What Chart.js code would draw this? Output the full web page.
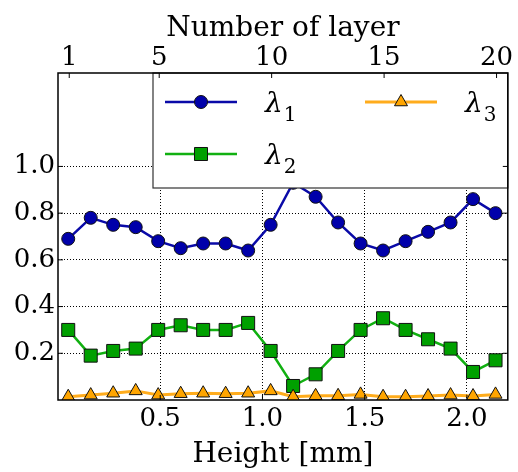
<!DOCTYPE html>
<html>
<head>
<meta charset="utf-8">
<title>Layer eigenvalues</title>
<script src="https://cdn.jsdelivr.net/npm/chart.js@4.4.1/dist/chart.umd.min.js"></script>
<style>
  html, body { margin: 0; padding: 0; background: #fff; }
  #wrap { width: 518px; height: 472px; }
</style>
</head>
<body>
<div id="wrap"><canvas id="chart" width="518" height="472"></canvas></div>
<script>
// layer centre heights in mm (one point per layer)
const heights = [0.05, 0.16, 0.27, 0.38, 0.49, 0.60, 0.71, 0.82, 0.93, 1.04,
                 1.15, 1.26, 1.37, 1.48, 1.59, 1.70, 1.81, 1.92, 2.03, 2.14];
const lambda1 = [0.69, 0.78, 0.75, 0.74, 0.68, 0.65, 0.67, 0.67, 0.64, 0.75,
                 0.93, 0.87, 0.76, 0.67, 0.64, 0.68, 0.72, 0.76, 0.86, 0.80];
const lambda2 = [0.30, 0.19, 0.21, 0.22, 0.30, 0.32, 0.30, 0.30, 0.33, 0.21,
                 0.06, 0.11, 0.21, 0.30, 0.35, 0.30, 0.26, 0.22, 0.12, 0.17];
const lambda3 = [0.014, 0.021, 0.029, 0.039, 0.021, 0.027, 0.029, 0.027, 0.029, 0.039,
                 0.014, 0.018, 0.018, 0.024, 0.014, 0.014, 0.017, 0.021, 0.017, 0.024];
const heightTicks = [0.5, 1.0, 1.5, 2.0];
const layerTicks = [1, 5, 10, 15, 20];
const valueTicks = [0.2, 0.4, 0.6, 0.8, 1.0];

const SERIF = '"DejaVu Serif", "Liberation Serif", serif';
const tickFont = { family: SERIF, size: 26 };
const titleFont = { family: SERIF, size: 28 };

const pts = arr => heights.map((h, i) => ({ x: h, y: arr[i] }));

function series(label, data, line, lw, fill, style, radius, order) {
  return {
    label, data: pts(data), order,
    borderColor: line, borderWidth: lw,
    pointStyle: style, pointRadius: radius,
    pointBackgroundColor: fill, pointBorderColor: '#111', pointBorderWidth: 1,
    tension: 0, fill: false
  };
}

const setTicks = list => scale => { scale.ticks = list.map(v => ({ value: v })); };

/* legend box + frame with inward ticks, drawn over the data */
const framePlugin = {
  id: 'frame',
  afterDatasetsDraw(chart) {
    const { ctx, chartArea: a, scales } = chart;
    ctx.save();

    // legend
    const box = { left: a.left + 95, top: a.top, right: a.right, bottom: a.top + 115 };
    ctx.fillStyle = '#fff';
    ctx.fillRect(box.left, box.top, box.right - box.left, box.bottom - box.top);
    ctx.strokeStyle = '#333';
    ctx.lineWidth = 1.2;
    ctx.strokeRect(box.left, box.top, box.right - box.left, box.bottom - box.top);

    const slots = [[0, 0], [0, 1], [1, 0]]; // [column, row] for λ1, λ2, λ3
    chart.data.datasets.forEach((ds, i) => {
      const [col, row] = slots[i];
      const x0 = box.left + 12 + col * 200;
      const y0 = box.top + 29 + row * 52;
      ctx.strokeStyle = ds.borderColor;
      ctx.lineWidth = ds.borderWidth;
      ctx.beginPath();
      ctx.moveTo(x0, y0);
      ctx.lineTo(x0 + 72, y0);
      ctx.stroke();
      ctx.fillStyle = ds.pointBackgroundColor;
      ctx.strokeStyle = ds.pointBorderColor;
      ctx.lineWidth = 1;
      Chart.helpers.drawPoint(ctx, {
        pointStyle: ds.pointStyle, radius: ds.pointRadius, rotation: 0, borderWidth: 1
      }, x0 + 36, y0);

      ctx.fillStyle = '#000';
      ctx.textBaseline = 'alphabetic';
      ctx.font = 'italic 28px ' + SERIF;
      ctx.fillText('λ', x0 + 100, y0 + 10);
      const w = ctx.measureText('λ').width;
      ctx.font = '20px ' + SERIF;
      ctx.fillText(String(i + 1), x0 + 100 + w + 1, y0 + 19);
    });

    // frame
    ctx.strokeStyle = '#000';
    ctx.lineWidth = 1.5;
    ctx.strokeRect(a.left, a.top, a.right - a.left, a.bottom - a.top);

    // inward ticks
    const t = 5;
    ctx.lineWidth = 1;
    ctx.beginPath();
    heightTicks.forEach(v => {
      const x = scales.x.getPixelForValue(v);
      ctx.moveTo(x, a.bottom); ctx.lineTo(x, a.bottom - t);
    });
    layerTicks.forEach(v => {
      const x = scales.x2.getPixelForValue(v);
      ctx.moveTo(x, a.top); ctx.lineTo(x, a.top + t);
    });
    valueTicks.forEach(v => {
      const y = scales.y.getPixelForValue(v);
      ctx.moveTo(a.left, y); ctx.lineTo(a.left + t, y);
      ctx.moveTo(a.right, y); ctx.lineTo(a.right - t, y);
    });
    ctx.stroke();
    ctx.restore();
  }
};

const dottedGrid = {
  grid: { color: '#000', lineWidth: 1, drawTicks: false },
  border: { display: false, dash: [1, 2] }
};

new Chart(document.getElementById('chart'), {
  type: 'line',
  data: {
    datasets: [
      series('λ1', lambda1, '#0a0aa8', 2.5, '#0000aa', 'circle', 6.5, 2),
      series('λ2', lambda2, '#11b011', 2.5, '#00a000', 'rect', 9.2, 1),
      series('λ3', lambda3, '#ffac1c', 3, '#ffa500', 'triangle', 7.5, 0)
    ]
  },
  options: {
    responsive: false,
    devicePixelRatio: 1,
    animation: false,
    events: [],
    layout: { padding: { left: 0, right: 8, top: 0, bottom: 0 } },
    plugins: { legend: { display: false }, tooltip: { enabled: false } },
    scales: {
      x: {
        type: 'linear', position: 'bottom', min: 0, max: 2.2,
        afterBuildTicks: setTicks(heightTicks),
        afterFit: s => { s.height = 72; },
        ticks: { font: tickFont, color: '#000', padding: 4, maxRotation: 0,
                 callback: v => v.toFixed(1) },
        title: { display: true, text: 'Height [mm]', font: titleFont, color: '#000',
                 padding: { top: 0, bottom: 0 } },
        ...dottedGrid
      },
      x2: {
        type: 'linear', position: 'top', min: 0.5, max: 20.5,
        afterBuildTicks: setTicks(layerTicks),
        afterFit: s => { s.height = 73; },
        ticks: { font: tickFont, color: '#000', padding: -9, maxRotation: 0 },
        title: { display: true, text: 'Number of layer', font: titleFont, color: '#000',
                 padding: { top: 12, bottom: 0 } },
        grid: { display: false },
        border: { display: false }
      },
      y: {
        min: 0, max: 1.4,
        afterBuildTicks: setTicks(valueTicks),
        afterFit: s => { s.width = 58; },
        ticks: { font: tickFont, color: '#000', padding: 3,
                 callback: v => v.toFixed(1) },
        ...dottedGrid
      }
    }
  },
  plugins: [framePlugin]
});
</script>
</body>
</html>
